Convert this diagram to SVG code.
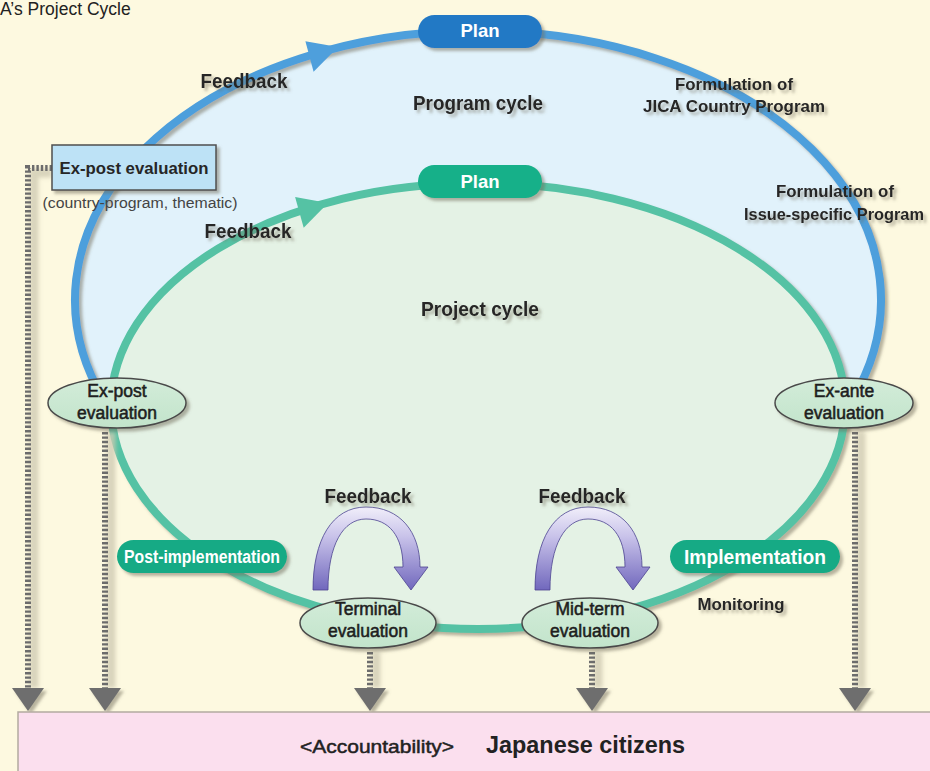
<svg xmlns="http://www.w3.org/2000/svg" width="930" height="771" viewBox="0 0 930 771">
<defs>
<filter id="sh" x="-20%" y="-20%" width="150%" height="160%">
<feDropShadow dx="3" dy="3" stdDeviation="1.8" flood-color="#6f6b58" flood-opacity="0.5"/>
</filter>
<filter id="blur" x="-50%" y="-5%" width="200%" height="110%">
<feGaussianBlur stdDeviation="2"/>
</filter>
<linearGradient id="purp" x1="0" y1="0" x2="0" y2="1">
<stop offset="0" stop-color="#f1effa"/>
<stop offset="0.35" stop-color="#c9c3ea"/>
<stop offset="1" stop-color="#7168bd"/>
</linearGradient>
<linearGradient id="ell" x1="0" y1="0" x2="0" y2="1">
<stop offset="0" stop-color="#d3ecd9"/>
<stop offset="1" stop-color="#c2e4cb"/>
</linearGradient>
<style>
text{font-family:"Liberation Sans",Arial,sans-serif;}
.lb{font-weight:bold;fill:#262626;text-anchor:middle;}
.el{font-size:17.5px;fill:#1e1e1e;text-anchor:middle;stroke:#1e1e1e;stroke-width:0.55;}
.wt{font-weight:bold;fill:#ffffff;text-anchor:middle;}
.evl{fill:url(#ell);stroke:#4a4a4a;stroke-width:1.5;}
.pillg{fill:#14aa85;}
.dash{fill:none;stroke:#6c6c6c;stroke-width:6;stroke-dasharray:2.4 2;}
.dsh{fill:none;stroke:#cfcab2;stroke-width:9;}
.ah{fill:#6e6e6e;}
</style>
</defs>
<rect x="0" y="0" width="930" height="771" fill="#fdf9e0"/>
<text x="0" y="15" font-size="17.5" fill="#222">A’s Project Cycle</text>

<g id="program-cycle">
<path d="M104 400 A403 269 0 1 1 852 400 Z" fill="#e1f2fb"/>
<path d="M104 400 A403 269 0 1 1 852 400" fill="none" stroke="#4e9fdc" stroke-width="8" filter="url(#sh)"/>
<polygon points="338,47 305.4,41.2 313.6,71.8" fill="#4e9fdc"/>
</g>

<g id="project-cycle">
<ellipse cx="478" cy="406" rx="367" ry="223" fill="#e4f2e5" stroke="#55c2a4" stroke-width="8" filter="url(#sh)"/>
<polygon points="328,203 295.1,197.1 303.7,227.7" fill="#55c2a4"/>
</g>

<g id="connectors">
<g opacity="0.8" filter="url(#blur)">
<path class="dsh" d="M52 173 H34 V688"/>
<path class="dsh" d="M111 432 V688"/>
<path class="dsh" d="M376 652 V688"/>
<path class="dsh" d="M598 652 V688"/>
<path class="dsh" d="M861 432 V688"/>
</g>
<path class="dash" d="M52 168 H28 V688"/>
<path class="dash" d="M105 432 V688"/>
<path class="dash" d="M370 652 V688"/>
<path class="dash" d="M592 652 V688"/>
<path class="dash" d="M855 432 V688"/>
<g filter="url(#sh)">
<polygon class="ah" points="12,688 44,688 28,711"/>
<polygon class="ah" points="89,688 121,688 105,711"/>
<polygon class="ah" points="354,688 386,688 370,711"/>
<polygon class="ah" points="576,688 608,688 592,711"/>
<polygon class="ah" points="839,688 871,688 855,711"/>
</g>
</g>

<g id="plan-program">
<rect x="418" y="15" width="124" height="33" rx="16.5" fill="#2479c5" filter="url(#sh)"/>
<text class="wt" x="480" y="37" font-size="18.5">Plan</text>
</g>
<g id="plan-project">
<rect x="418" y="165" width="124" height="33" rx="16.5" fill="#13b089" filter="url(#sh)"/>
<text class="wt" x="480" y="188" font-size="18.5">Plan</text>
</g>

<g id="labels" filter="url(#sh)">
<text class="lb" x="244" y="88" font-size="19.5" textLength="87" lengthAdjust="spacingAndGlyphs">Feedback</text>
<text class="lb" x="478" y="110" font-size="19.5" textLength="130" lengthAdjust="spacingAndGlyphs">Program cycle</text>
<text class="lb" x="734" y="90" font-size="17" textLength="118" lengthAdjust="spacingAndGlyphs">Formulation of</text>
<text class="lb" x="734" y="112" font-size="17" textLength="182" lengthAdjust="spacingAndGlyphs">JICA Country Program</text>
<text class="lb" x="835" y="197" font-size="17" textLength="118" lengthAdjust="spacingAndGlyphs">Formulation of</text>
<text class="lb" x="834" y="220" font-size="17" textLength="180" lengthAdjust="spacingAndGlyphs">Issue-specific Program</text>
<text class="lb" x="248" y="238" font-size="19.5" textLength="87" lengthAdjust="spacingAndGlyphs">Feedback</text>
<text class="lb" x="480" y="316" font-size="19.5" textLength="118" lengthAdjust="spacingAndGlyphs">Project cycle</text>
<text class="lb" x="741" y="610" font-size="17" textLength="87" lengthAdjust="spacingAndGlyphs">Monitoring</text>
</g>

<g id="expost-program">
<rect x="52" y="145" width="164" height="45" fill="#bde2f6" stroke="#4f4f4f" stroke-width="1.5" filter="url(#sh)"/>
<text class="lb" x="134" y="174" font-size="17" textLength="149" lengthAdjust="spacingAndGlyphs">Ex-post evaluation</text>
<text x="140" y="208" font-size="15.5" fill="#444" text-anchor="middle" textLength="195" lengthAdjust="spacingAndGlyphs">(country-program, thematic)</text>
</g>

<g id="expost-project">
<ellipse class="evl" cx="117" cy="403" rx="69" ry="25" filter="url(#sh)"/>
<text class="el" x="117" y="397">Ex-post</text>
<text class="el" x="117" y="419">evaluation</text>
</g>
<g id="exante">
<ellipse class="evl" cx="844" cy="403" rx="69" ry="25" filter="url(#sh)"/>
<text class="el" x="844" y="397">Ex-ante</text>
<text class="el" x="844" y="419">evaluation</text>
</g>

<g id="post-implementation">
<rect class="pillg" x="117" y="540" width="170" height="33" rx="16.5" filter="url(#sh)"/>
<text class="wt" x="202" y="563" font-size="17.5" textLength="156" lengthAdjust="spacingAndGlyphs">Post-implementation</text>
</g>
<g id="implementation">
<rect class="pillg" x="670" y="540" width="170" height="33" rx="16.5" filter="url(#sh)"/>
<text class="wt" x="755" y="564" font-size="19.5" textLength="142" lengthAdjust="spacingAndGlyphs">Implementation</text>
</g>

<g id="feedback-terminal">
<path d="M313 590 C313 540 332 507 366 507 C400 507 420 532 420 567 L428 567 L411 590 L394 567 L403 567 C403 536 389 519 366 519 C343 519 328 545 328 590 Z" fill="url(#purp)" stroke="#4b4390" stroke-width="0.8"/>
<text class="lb" x="368" y="503" font-size="19.5" textLength="87" lengthAdjust="spacingAndGlyphs" filter="url(#sh)">Feedback</text>
</g>
<g id="feedback-midterm">
<path transform="translate(222,0)" d="M313 590 C313 540 332 507 366 507 C400 507 420 532 420 567 L428 567 L411 590 L394 567 L403 567 C403 536 389 519 366 519 C343 519 328 545 328 590 Z" fill="url(#purp)" stroke="#4b4390" stroke-width="0.8"/>
<text class="lb" x="582" y="503" font-size="19.5" textLength="87" lengthAdjust="spacingAndGlyphs" filter="url(#sh)">Feedback</text>
</g>

<g id="terminal">
<ellipse class="evl" cx="368" cy="623" rx="68" ry="25" filter="url(#sh)"/>
<text class="el" x="368" y="615">Terminal</text>
<text class="el" x="368" y="637">evaluation</text>
</g>
<g id="midterm">
<ellipse class="evl" cx="590" cy="623" rx="68" ry="25" filter="url(#sh)"/>
<text class="el" x="590" y="615">Mid-term</text>
<text class="el" x="590" y="637">evaluation</text>
</g>

<g id="citizens">
<rect x="18" y="712" width="930" height="70" fill="#fbdfee" stroke="#b3aba0" stroke-width="1.5"/>
<text x="300" y="753" font-size="19" fill="#222" stroke="#222" stroke-width="0.5" textLength="154" lengthAdjust="spacingAndGlyphs">&lt;Accountability&gt;</text>
<text x="486" y="753" font-size="23" font-weight="bold" fill="#222" textLength="199" lengthAdjust="spacingAndGlyphs">Japanese citizens</text>
</g>
</svg>
